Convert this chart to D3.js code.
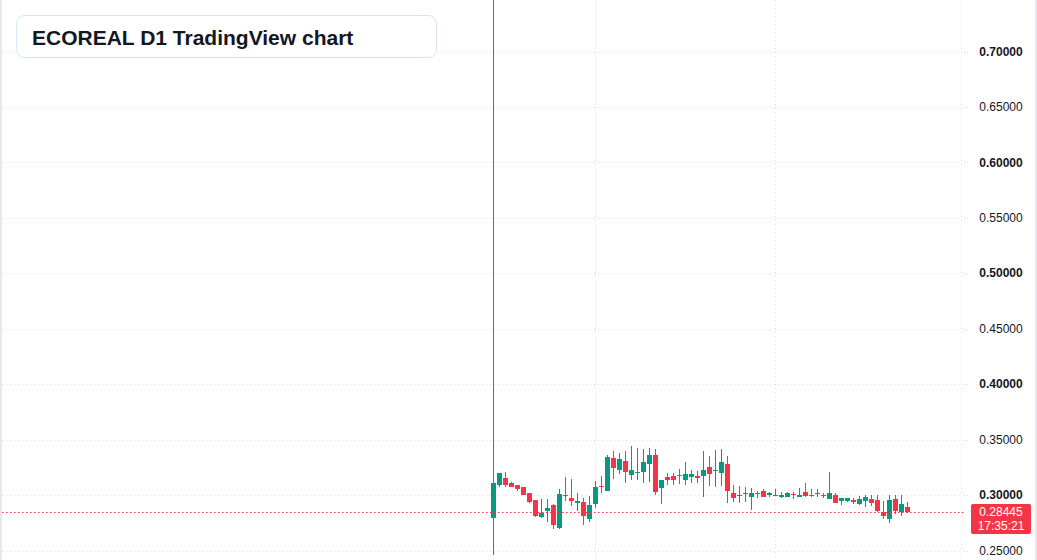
<!DOCTYPE html>
<html>
<head>
<meta charset="utf-8">
<script src="https://cdn.jsdelivr.net/npm/d3@7"></script>
<style>
  html, body { margin: 0; padding: 0; background: #ffffff; }
  svg { display: block; font-family: "Liberation Sans", Arial, sans-serif; }
</style>
</head>
<body>
<svg id="chart"></svg>
<script>
// daily candles, index 0 = first trading day shown
const opens  = [0.2792, 0.3089, 0.3150, 0.3105, 0.3087, 0.3069, 0.3023, 0.2951, 0.2798, 0.2852,
                0.2906, 0.2699, 0.2999, 0.2969, 0.2924, 0.2933, 0.2780, 0.2915, 0.3078, 0.3041,
                0.3330, 0.3222, 0.3303, 0.3177, 0.3195, 0.3204, 0.3276, 0.3357, 0.3060, 0.3159,
                0.3168, 0.3177, 0.3132, 0.3159, 0.3168, 0.3168, 0.3249, 0.3213, 0.3195, 0.3276,
                0.3023, 0.2996, 0.3023, 0.2978, 0.3023, 0.3041, 0.3005, 0.2996, 0.2978, 0.2978,
                0.3014, 0.2978, 0.3032, 0.2996, 0.3014, 0.2996, 0.2960, 0.3005, 0.2942, 0.2942,
                0.2951, 0.2915, 0.2942, 0.2960, 0.2951, 0.2843, 0.2780, 0.2960, 0.2843, 0.2888];
const highs  = [0.7800, 0.3195, 0.3204, 0.3114, 0.3087, 0.3069, 0.3023, 0.2951, 0.2960, 0.2960,
                0.2915, 0.3051, 0.3159, 0.3141, 0.3023, 0.2969, 0.2987, 0.3123, 0.3168, 0.3357,
                0.3393, 0.3375, 0.3393, 0.3438, 0.3420, 0.3411, 0.3420, 0.3411, 0.3132, 0.3195,
                0.3195, 0.3231, 0.3294, 0.3222, 0.3213, 0.3393, 0.3348, 0.3402, 0.3411, 0.3348,
                0.3087, 0.3078, 0.3069, 0.3060, 0.3041, 0.3051, 0.3032, 0.3051, 0.3032, 0.3032,
                0.3032, 0.3060, 0.3105, 0.3051, 0.3051, 0.3023, 0.3204, 0.3023, 0.2969, 0.2969,
                0.2969, 0.2987, 0.2996, 0.2996, 0.2996, 0.2942, 0.2996, 0.2996, 0.2996, 0.2933];
const lows   = [0.2455, 0.3071, 0.3071, 0.3069, 0.3035, 0.3001, 0.2924, 0.2805, 0.2793, 0.2753,
                0.2690, 0.2690, 0.2942, 0.2897, 0.2852, 0.2726, 0.2753, 0.2879, 0.3023, 0.3041,
                0.3141, 0.3186, 0.3105, 0.3132, 0.3132, 0.3105, 0.3114, 0.2996, 0.2915, 0.3087,
                0.3087, 0.3096, 0.3087, 0.3105, 0.3105, 0.2978, 0.3078, 0.3069, 0.3078, 0.2924,
                0.2933, 0.2924, 0.2933, 0.2861, 0.2969, 0.2978, 0.2978, 0.2987, 0.2969, 0.2978,
                0.2960, 0.2978, 0.2978, 0.2978, 0.2978, 0.2969, 0.2960, 0.2924, 0.2906, 0.2933,
                0.2915, 0.2906, 0.2888, 0.2897, 0.2843, 0.2780, 0.2744, 0.2825, 0.2807, 0.2834];
const closes = [0.3105, 0.3195, 0.3089, 0.3071, 0.3053, 0.3005, 0.2933, 0.2807, 0.2834, 0.2879,
                0.2726, 0.3014, 0.2990, 0.2942, 0.2942, 0.2807, 0.2906, 0.3069, 0.3069, 0.3339,
                0.3240, 0.3321, 0.3204, 0.3222, 0.3204, 0.3294, 0.3357, 0.3032, 0.3132, 0.3132,
                0.3132, 0.3168, 0.3186, 0.3186, 0.3150, 0.3222, 0.3186, 0.3222, 0.3294, 0.3041,
                0.2969, 0.3005, 0.3014, 0.3023, 0.3014, 0.2978, 0.3023, 0.3005, 0.3005, 0.3023,
                0.3005, 0.3005, 0.2987, 0.2987, 0.3023, 0.2987, 0.3023, 0.2924, 0.2969, 0.2969,
                0.2933, 0.2960, 0.2978, 0.2924, 0.2852, 0.2807, 0.2951, 0.2852, 0.2915, 0.28445];

const priceTicks = [0.25, 0.30, 0.35, 0.40, 0.45, 0.50, 0.55, 0.60, 0.65, 0.70, 0.75];
const monthStarts = [17, 47, 78];   // candle index where a new month begins
const lastPrice = 0.28445;
const countdown = "17:35:21";
const title = "ECOREAL D1 TradingView chart";

const width = 1037, height = 560;
const plotRight = 962;
const upColor = "#089981", downColor = "#f23645";

const candles = opens.map((o, i) => ({ i, o, h: highs[i], l: lows[i], c: closes[i] }));

const svg = d3.select("#chart").attr("width", width).attr("height", height);

const x = d3.scaleLinear().domain([0, 69]).range([493.5, 907.5]);
const y = d3.scaleLinear().domain([0.25, 0.70]).range([550.5, 51.5]);

// borders
svg.append("rect").attr("x", 0).attr("y", 0).attr("width", 2).attr("height", height).attr("fill", "#e6e8ee");
svg.append("rect").attr("x", 1035).attr("y", 0).attr("width", 2).attr("height", height).attr("fill", "#e6e8ee");

// grid
const grid = svg.append("g").attr("stroke", "#d9dce3").attr("stroke-width", 1).attr("stroke-dasharray", "1,3");
grid.selectAll("line.h").data(priceTicks).join("line")
  .attr("class", "h")
  .attr("x1", 2).attr("x2", plotRight)
  .attr("y1", d => Math.round(y(d)) + 0.5).attr("y2", d => Math.round(y(d)) + 0.5);
grid.selectAll("line.v").data(monthStarts).join("line")
  .attr("class", "v")
  .attr("x1", d => Math.floor(x(d)) + 0.5).attr("x2", d => Math.floor(x(d)) + 0.5)
  .attr("y1", 0).attr("y2", height);

// candles
const cg = svg.append("g");
const candle = cg.selectAll("g").data(candles).join("g")
  .attr("fill", d => d.c >= d.o ? upColor : downColor);
candle.append("rect")
  .attr("x", d => Math.floor(x(d.i)))
  .attr("width", 1)
  .attr("y", d => Math.round(y(d.h)))
  .attr("height", d => Math.max(1, Math.round(y(d.l)) - Math.round(y(d.h))));
candle.append("rect")
  .attr("x", d => Math.floor(x(d.i)) - 2)
  .attr("width", 5)
  .attr("y", d => Math.round(y(Math.max(d.o, d.c))))
  .attr("height", d => Math.max(1, Math.round(y(Math.min(d.o, d.c))) - Math.round(y(Math.max(d.o, d.c)))));

// last price line
svg.append("line")
  .attr("x1", 2).attr("x2", plotRight + 4)
  .attr("y1", Math.round(y(lastPrice)) + 0.5).attr("y2", Math.round(y(lastPrice)) + 0.5)
  .attr("stroke", downColor).attr("stroke-width", 1).attr("stroke-dasharray", "1.5,2.5");

// price axis
const axis = svg.append("g");
axis.selectAll("line").data(priceTicks).join("line")
  .attr("x1", 964).attr("x2", 968)
  .attr("y1", d => Math.round(y(d)) + 0.5).attr("y2", d => Math.round(y(d)) + 0.5)
  .attr("stroke", "#d9dce3").attr("stroke-dasharray", "1,2");
axis.selectAll("text").data(priceTicks).join("text")
  .attr("x", 1001)
  .attr("y", d => y(d))
  .attr("dy", "0.35em")
  .attr("text-anchor", "middle")
  .attr("font-size", 12)
  .attr("font-weight", d => Math.round(d * 100) % 10 === 0 ? "bold" : "normal")
  .attr("fill", "#131722")
  .text(d => d.toFixed(5));

// last price tag
const tagY = y(lastPrice);
svg.append("rect")
  .attr("x", 971).attr("y", Math.round(tagY) - 8)
  .attr("width", 60).attr("height", 30)
  .attr("rx", 2)
  .attr("fill", downColor);
svg.append("text")
  .attr("x", 1001).attr("y", tagY).attr("dy", "0.35em")
  .attr("text-anchor", "middle").attr("font-size", 12).attr("fill", "#ffffff")
  .text(lastPrice.toFixed(5));
svg.append("text")
  .attr("x", 1001).attr("y", tagY + 14).attr("dy", "0.35em")
  .attr("text-anchor", "middle").attr("font-size", 12).attr("fill", "#ffffff")
  .text(countdown);

// title box
svg.append("rect")
  .attr("x", 16.5).attr("y", 15.5)
  .attr("width", 420).attr("height", 42)
  .attr("rx", 8)
  .attr("fill", "#ffffff")
  .attr("stroke", "#d5e3f7");
svg.append("text")
  .attr("x", 32).attr("y", 45)
  .attr("font-size", 21).attr("font-weight", "bold")
  .attr("fill", "#131722")
  .text(title);
</script>
</body>
</html>
